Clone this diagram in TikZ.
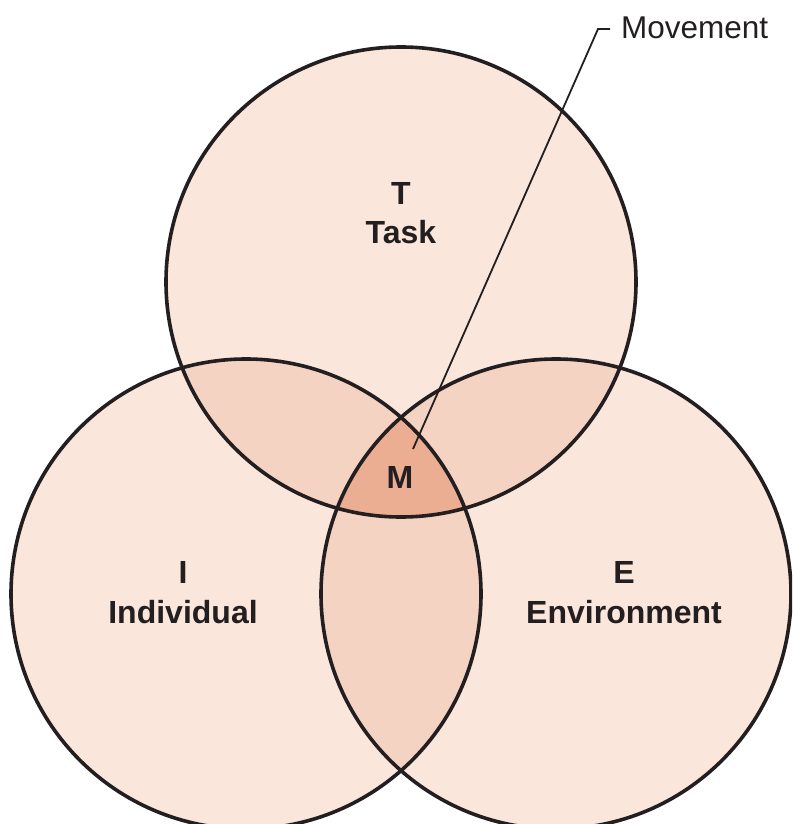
\documentclass[tikz,border=0pt]{standalone}
\usepackage{fontspec}
\setmainfont{Liberation Sans}
\definecolor{baseC}{HTML}{FAE6DB}
\definecolor{pairC}{HTML}{F4D3C3}
\definecolor{tripC}{HTML}{EBAE92}
\definecolor{inkC}{HTML}{231F20}
\begin{document}
\begin{tikzpicture}[x=1pt,y=-1pt,
  ring/.style={draw=inkC,line width=3.6pt},
  lbl/.style={inner sep=0pt,anchor=base,font=\fontsize{32}{38}\selectfont\bfseries,text=inkC},
  mlbl/.style={inner sep=0pt,anchor=base west,font=\fontsize{31.5}{37}\selectfont,text=inkC},
  leader/.style={draw=inkC,line width=1.8pt}]
\useasboundingbox (0,0) rectangle (792,824);
\clip (0,0) rectangle (792,824);
\coordinate (cT) at (401,282);
\coordinate (cI) at (246,594);
\coordinate (cE) at (556,594);
\def\R{235}
% base fills
\fill[baseC] (cT) circle (\R);
\fill[baseC] (cI) circle (\R);
\fill[baseC] (cE) circle (\R);
% pairwise overlaps
\begin{scope}\clip (cT) circle (\R); \fill[pairC] (cI) circle (\R); \end{scope}
\begin{scope}\clip (cT) circle (\R); \fill[pairC] (cE) circle (\R); \end{scope}
\begin{scope}\clip (cI) circle (\R); \fill[pairC] (cE) circle (\R); \end{scope}
% triple overlap
\begin{scope}\clip (cT) circle (\R); \clip (cI) circle (\R); \fill[tripC] (cE) circle (\R); \end{scope}
% outlines
\draw[ring] (cT) circle (\R);
\draw[ring] (cI) circle (\R);
\draw[ring] (cE) circle (\R);
% labels
\node[lbl] (tl) at (401,204) {T};
\node[lbl] (tt) at (401,243) {Task};
\node[lbl] (il) at (183,583) {I};
\node[lbl] (it) at (183,623) {Individual};
\node[lbl] (el) at (624,583) {E};
\node[lbl] (et) at (624,623) {Environment};
\node[lbl] (ml) at (400,488) {M};
\node[mlbl] (mov) at (621,39) {Movement};
% leader
\coordinate (mstart) at (413,449);
\coordinate (bend) at (598,29);
\coordinate (mend) at (610,29);
\draw[leader] (mstart) -- (bend) -- (mend);
\end{tikzpicture}
\end{document}
